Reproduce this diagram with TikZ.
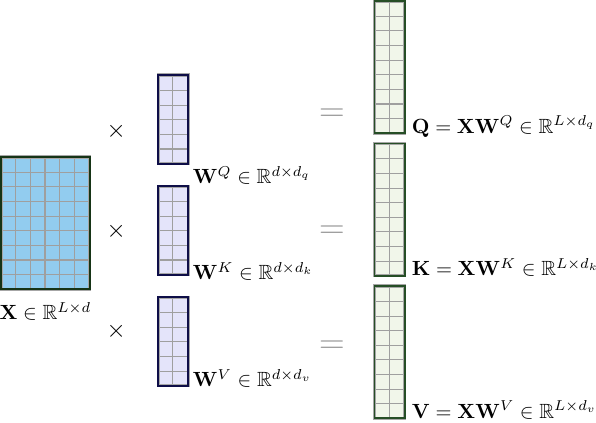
\documentclass[tikz,border=0pt]{standalone}
\usepackage{amsmath,amssymb}
\usepackage{xcolor}
\usepackage{tikz}
\usetikzlibrary{positioning,calc}

\definecolor{xfill}{RGB}{146,204,239}
\definecolor{xedge}{RGB}{22,52,22}
\definecolor{wfill}{RGB}{228,228,250}
\definecolor{wedge}{RGB}{14,14,72}
\definecolor{ofill}{RGB}{241,246,234}
\definecolor{oedge}{RGB}{38,78,38}

\begin{document}
\begin{tikzpicture}[
    block/.style={rectangle, inner sep=0pt, minimum width=#1},
    gridline/.style={draw=gray!75, line width=0.5pt},
    frame/.style={draw=#1, line width=0.9pt, preaction={draw=gray!70, line width=1.6pt}},
    timessign/.style={font=\large},
    eqsign/.style={font=\LARGE, text=gray!80}
  ]
        \useasboundingbox (0,0) rectangle (10.2,7.23);
        % input matrix
        \node[block=1.5cm, minimum height=2.25cm, fill=xfill, anchor=south west] (X) at (0.02,2.28) {};
        % weight matrices
        \node[block=0.5cm, minimum height=1.5cm, fill=wfill, anchor=south west] (WQ) at (2.71,4.43) {};
        \node[block=0.5cm, minimum height=1.5cm, fill=wfill, anchor=south west] (WK) at (2.71,2.53) {};
        \node[block=0.5cm, minimum height=1.5cm, fill=wfill, anchor=south west] (WV) at (2.71,0.63) {};
        % results
        \node[block=0.5cm, minimum height=2.25cm, fill=ofill, anchor=south west] (Q) at (6.41,4.95) {};
        \node[block=0.5cm, minimum height=2.25cm, fill=ofill, anchor=south west] (K) at (6.41,2.51) {};
        \node[block=0.5cm, minimum height=2.25cm, fill=ofill, anchor=south west] (V) at (6.41,0.07) {};
        % cells
        \foreach \m/\nc/\nr in {X/6/9, WQ/2/6, WK/2/6, WV/2/6, Q/2/9, K/2/9, V/2/9} {
            \foreach \i in {1,...,\nc}
                \draw[gridline] ($(\m.south west)+(\i*0.25,0)$) -- ++(0,\nr*0.25);
            \foreach \j in {1,...,\nr}
                \draw[gridline] ($(\m.south west)+(0,\j*0.25)$) -- ++(\nc*0.25,0);
        }
        % borders
        \foreach \m/\col in {X/xedge, WQ/wedge, WK/wedge, WV/wedge, Q/oedge, K/oedge, V/oedge}
            \draw[frame=\col] (\m.south west) rectangle (\m.north east);
        % operators
        \node[timessign] (t1) at (1.99,4.99) {$\times$};
        \node[timessign] (t2) at (1.99,3.27) {$\times$};
        \node[timessign] (t3) at (1.99,1.56) {$\times$};
        \node[eqsign] (e1) at (5.68,5.25) {$=$};
        \node[eqsign] (e2) at (5.68,3.26) {$=$};
        \node[eqsign] (e3) at (5.68,1.29) {$=$};
        % labels
        \node[below=1mm of X] (lx) {$\mathbf{X} \in \mathbb{R}^{L\times d}$};
        \node[anchor=base west, inner sep=2pt] (lwq) at ($(WQ.south east)+(0,-0.34)$) {$\mathbf{W}^Q \in \mathbb{R}^{d\times d_q}$};
        \node[anchor=base west, inner sep=2pt] (lwk) at ($(WK.south east)+(0,-0.09)$) {$\mathbf{W}^K \in \mathbb{R}^{d\times d_k}$};
        \node[anchor=base west, inner sep=2pt] (lwv) at ($(WV.south east)+(0,-0.02)$) {$\mathbf{W}^V \in \mathbb{R}^{d\times d_v}$};
        \node[anchor=base west] (lq) at (Q.south east) {$\mathbf{Q} = \mathbf{X}\mathbf{W}^Q \in \mathbb{R}^{L\times d_q}$};
        \node[anchor=base west] (lk) at (K.south east) {$\mathbf{K} = \mathbf{X}\mathbf{W}^K \in \mathbb{R}^{L\times d_k}$};
        \node[anchor=base west] (lv) at (V.south east) {$\mathbf{V} = \mathbf{X}\mathbf{W}^V \in \mathbb{R}^{L\times d_v}$};
\end{tikzpicture}
\end{document}
